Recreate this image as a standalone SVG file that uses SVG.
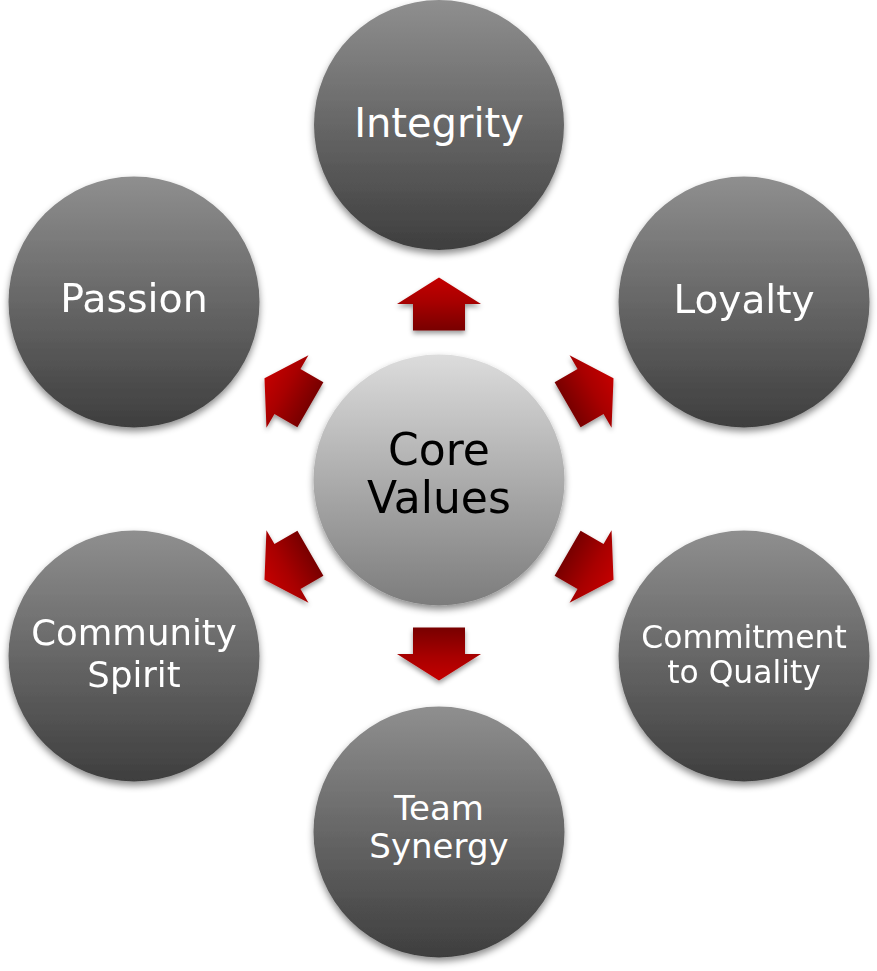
<svg xmlns="http://www.w3.org/2000/svg" width="877" height="971" viewBox="0 0 877 971">
<defs>
<linearGradient id="gOuter" x1="0" y1="0" x2="0" y2="1">
<stop offset="0" stop-color="#8f8f8f"/>
<stop offset="1" stop-color="#3e3e3e"/>
</linearGradient>
<linearGradient id="gCore" x1="0" y1="0" x2="0" y2="1">
<stop offset="0" stop-color="#dcdcdc"/>
<stop offset="1" stop-color="#7c7c7c"/>
</linearGradient>
<linearGradient id="gArrow" x1="0" y1="0" x2="1" y2="0">
<stop offset="0" stop-color="#780000"/>
<stop offset="0.55" stop-color="#a80000"/>
<stop offset="1" stop-color="#c40000"/>
</linearGradient>
<filter id="sh" x="-20%" y="-20%" width="140%" height="150%">
<feDropShadow dx="0" dy="4" stdDeviation="3.5" flood-color="#000" flood-opacity="0.45"/>
</filter>
<filter id="shA" x="-30%" y="-30%" width="160%" height="170%">
<feDropShadow dx="0" dy="3" stdDeviation="2.5" flood-color="#000" flood-opacity="0.4"/>
</filter>
<path id="arrow" d="M-26.5,-26 L0,-26 L0,-42 L26.5,0 L0,42 L0,26 L-26.5,26 Z"/>
</defs>
<style>
.outer{fill:url(#gOuter);filter:url(#sh)}
.core{fill:url(#gCore);filter:url(#sh)}
.lbl{font-family:"DejaVu Sans","Liberation Sans",sans-serif;fill:#ffffff;text-anchor:middle}
.corelbl{font-family:"DejaVu Sans","Liberation Sans",sans-serif;fill:#000000;text-anchor:middle;font-size:44px}
.arr{fill:url(#gArrow)}
</style>
<rect width="877" height="971" fill="#ffffff"/>
<g id="connectors" filter="url(#shA)">
<use href="#arrow" class="arr" transform="translate(439,479) rotate(-90) translate(175,0)"/>
<use href="#arrow" class="arr" transform="translate(439,479) rotate(-30) translate(175,0)"/>
<use href="#arrow" class="arr" transform="translate(439,479) rotate(30) translate(175,0)"/>
<use href="#arrow" class="arr" transform="translate(439,479) rotate(90) translate(175,0)"/>
<use href="#arrow" class="arr" transform="translate(439,479) rotate(150) translate(175,0)"/>
<use href="#arrow" class="arr" transform="translate(439,479) rotate(210) translate(175,0)"/>
</g>
<g id="node-core">
<circle class="core" cx="439" cy="480" r="125.5"/>
<text class="corelbl" x="439" y="465">Core</text>
<text class="corelbl" x="439" y="513">Values</text>
</g>
<g id="node-integrity">
<circle class="outer" cx="439" cy="125" r="125"/>
<text class="lbl" x="439" y="137" font-size="40">Integrity</text>
</g>
<g id="node-loyalty">
<circle class="outer" cx="744" cy="302" r="125.5"/>
<text class="lbl" x="744" y="313" font-size="39">Loyalty</text>
</g>
<g id="node-commitment">
<circle class="outer" cx="744" cy="656" r="125.5"/>
<text class="lbl" x="744" y="648" font-size="31.4">Commitment</text>
<text class="lbl" x="744" y="683" font-size="31.4">to Quality</text>
</g>
<g id="node-team">
<circle class="outer" cx="439" cy="832" r="125.5"/>
<text class="lbl" x="439" y="820" font-size="34">Team</text>
<text class="lbl" x="439" y="858" font-size="34">Synergy</text>
</g>
<g id="node-community">
<circle class="outer" cx="134" cy="656" r="125.5"/>
<text class="lbl" x="134" y="645" font-size="35.5">Community</text>
<text class="lbl" x="134" y="687" font-size="35.5">Spirit</text>
</g>
<g id="node-passion">
<circle class="outer" cx="134" cy="302" r="125.5"/>
<text class="lbl" x="134" y="312" font-size="39.5">Passion</text>
</g>
</svg>
